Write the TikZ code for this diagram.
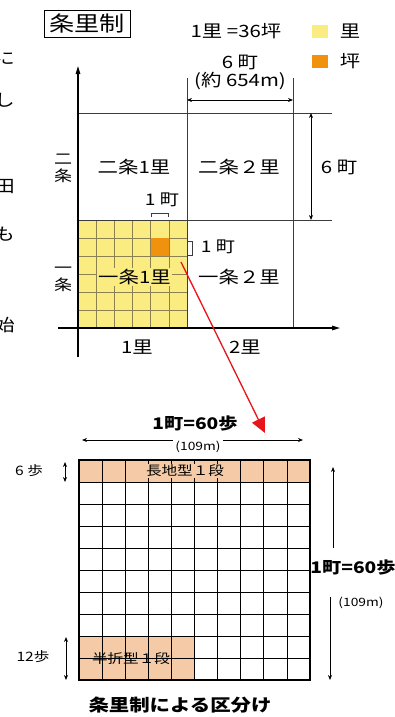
\documentclass[tikz,border=0pt]{standalone}
\usepackage{fontspec}
\setmainfont[FakeStretch=1.2]{Noto Sans CJK JP}
\usetikzlibrary{arrows.meta}
\definecolor{riyellow}{HTML}{FAEC80}
\definecolor{tsubo}{HTML}{F0920E}
\definecolor{dan}{HTML}{F5CBA7}
\definecolor{redline}{HTML}{E8141B}
\definecolor{gridline}{HTML}{3C3C3C}
\definecolor{rigrid}{HTML}{8A8050}
\newcommand{\fsz}[1]{\fontsize{#1}{#1}\selectfont}
\tikzset{
  dim/.style={{Stealth[length=5pt,width=4pt]}-{Stealth[length=5pt,width=4pt]}, line width=0.8pt},
  axis/.style={-{Triangle[length=8pt,width=4.5pt]}, line width=1.2pt},
  lbl/.style={inner sep=0pt, text=black, font=\fsz{17}},
}

\begin{document}
\begin{tikzpicture}[x=1pt,y=-1pt]
\useasboundingbox (0,0) rectangle (394,717);
\fill[white] (0,0) rectangle (394,717);
\def\ri{18.17}
\def\rh{18}
\def\cx{23.1}
\def\cy{22}
%cut text (left)
\foreach \t/\y in {に/58, し/100, 田/187, も/234, 始/325} \node[anchor=east, inner sep=0pt, font=\fsz{17}] at (15,\y) {\t};
%title
\node[draw, line width=0.9pt, inner sep=3pt, minimum width=86pt, minimum height=27pt, font=\fsz{21}] (title) at (87,23.5) {条里制};
\node[lbl] (rule) at (236,31) {1里 =36坪};
%legend
\fill[riyellow] (312,25) rectangle (328,38);
\fill[tsubo] (312,55) rectangle (328,68);
\node[lbl] (legri) at (350,31) {里};
\node[lbl] (legtsubo) at (350,61) {坪};
%fill ri
\fill[riyellow] (78,220) rectangle (187,328);
\foreach \i in {1,...,5} \draw[rigrid, line width=0.6pt] (78+\i*\ri,220) -- (78+\i*\ri,328) (78,220+\i*\rh) -- (187,220+\i*\rh);
\fill[tsubo] (78+4*\ri,220+\rh) rectangle ++(\ri,\rh);
%lines
\draw[gridline, line width=0.9pt] (78,113) -- (332,113) (78,220) -- (332,220) (187,78) -- (187,328) (293,78) -- (293,328);
%axes
\coordinate (yfoot) at (78,357);
\coordinate (ytip) at (78,66);
\coordinate (xfoot) at (58,328);
\coordinate (xtip) at (340,328);
\draw[axis] (yfoot) -- (ytip);
\draw[axis] (xfoot) -- (xtip);
%dimension
\coordinate (dl) at (187,100);
\coordinate (dr) at (293,100);
\coordinate (dt) at (311,113);
\coordinate (db) at (311,220);
\draw[dim] (dl) -- (dr);
\draw[dim] (dt) -- (db);
\node[lbl] (sixcho) at (240,62) {6 町};
\node[lbl] (approx) at (240,81) {(約 654m)};
\node[lbl] (sixchoR) at (339,167) {6 町};
%brackets
\draw[gridline, line width=0.8pt] (151,217) -- (151,213) -- (168,213) -- (168,217);
\draw[gridline, line width=0.8pt] (188,241) -- (192,241) -- (192,255) -- (188,255);
\node[lbl, font=\fsz{16}] (chotop) at (162,200) {1 町};
\node[lbl, font=\fsz{16}] (choright) at (218,247) {1 町};
%label
\node[lbl] (nijo1) at (134,167) {二条1里};
\node[lbl] (nijo2) at (239,167) {二条２里};
\node[lbl, fill=riyellow, inner sep=1pt] (ichijo1) at (134.5,277) {一条1里};
\node[lbl] (ichijo2) at (239,277) {一条２里};
\node[lbl, font=\fontsize{15}{17}\selectfont, align=center] (nijo) at (63,168) {二\\条};
\node[lbl, font=\fontsize{15}{17}\selectfont, align=center] (ichijo) at (63,279) {一\\条};
\node[lbl] (ri1) at (137,347) {1里};
\node[lbl] (ri2) at (245,347) {2里};
%%
%dan matrix
\fill[dan] (79,460) rectangle (310,482);
\fill[dan] (79,460+8*\cy) rectangle (79+5*\cx,680);
\foreach \i in {1,...,9} \draw[line width=0.8pt] (79+\i*\cx,460) -- (79+\i*\cx,680) (79,460+\i*\cy) -- (310,460+\i*\cy);
\draw[line width=1.6pt] (79,460) rectangle (310,680);
\node[lbl, fill=dan, inner sep=1pt, font=\fsz{13}] (nagachi) at (185,471) {長地型１段};
\node[lbl, font=\fsz{13}] (hanori) at (131,659) {半折型１段};
%link
\coordinate (linkfrom) at (181,262);
\coordinate (linkto) at (265,433);
\draw[redline, line width=1.3pt, -{Triangle[length=15pt,width=14pt]}] (linkfrom) -- (linkto);
%bottom dimension
\coordinate (bl) at (82,440);
\coordinate (br) at (303,440);
\draw[dim] (bl) -- (br);
\node[lbl, font=\bfseries\fsz{16}] (cho60) at (195,423) {1町=60歩};
\node[lbl, fill=white, inner sep=2pt, font=\fsz{11.5}] (m109) at (198,447) {(109m)};
\coordinate (rup) at (333,548);
\coordinate (rupt) at (333,467);
\coordinate (rdn) at (330,597);
\coordinate (rdnt) at (330,680);
\draw[-{Stealth[length=5pt,width=4pt]}, line width=0.8pt] (rup) -- (rupt);
\draw[-{Stealth[length=5pt,width=4pt]}, line width=0.8pt] (rdn) -- (rdnt);
\node[lbl, font=\bfseries\fsz{16}] (cho60R) at (353,567) {1町=60歩};
\node[lbl, font=\fsz{11.5}] (m109R) at (361,603) {(109m)};
\coordinate (s6t) at (65,462);
\coordinate (s6b) at (65,482);
\coordinate (s12t) at (66,637);
\coordinate (s12b) at (66,680);
\draw[dim] (s6t) -- (s6b);
\draw[dim] (s12t) -- (s12b);
\node[lbl, font=\fsz{13}] (ho6) at (29,471) {6 歩};
\node[lbl, font=\fsz{13}] (ho12) at (33,657) {12歩};
%caption
\node[lbl, font=\bfseries\fsz{17}] (caption) at (180,705) {条里制による区分け};
\end{tikzpicture}
\end{document}
